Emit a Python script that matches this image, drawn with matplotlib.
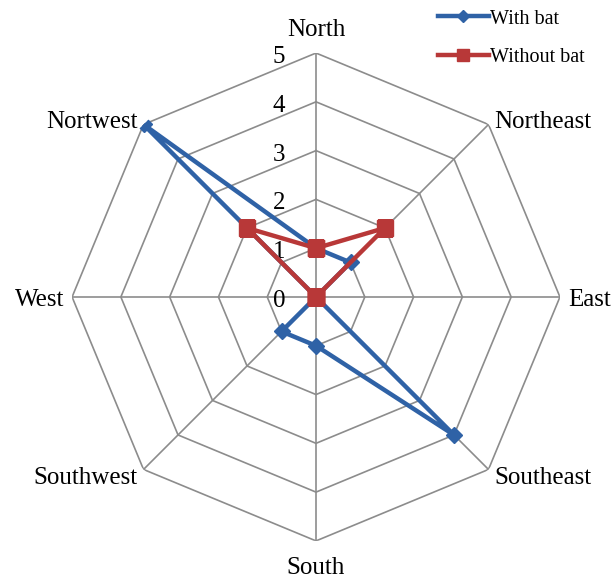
import numpy as np
import matplotlib
matplotlib.use("Agg")
import matplotlib.pyplot as plt

directions = ["North", "Northeast", "East", "Southeast",
              "South", "Southwest", "West", "Nortwest"]
with_bat = [1, 1, 0, 4, 1, 1, 0, 5]
without_bat = [1, 2, 0, 0, 0, 0, 0, 2]
rings = [1, 2, 3, 4, 5]

plt.rcParams["font.family"] = ["Liberation Serif", "DejaVu Serif"]

fig = plt.figure(figsize=(6.16, 5.79), dpi=100)
ax = fig.add_axes([0.117, 0.0656, 0.792, 0.843], projection="polar")
ax.set_theta_zero_location("N")
ax.set_theta_direction(-1)
ax.set_ylim(0, 5)
ax.grid(False)
ax.spines["polar"].set_visible(False)
ax.set_xticks([])
ax.set_yticks([])
ax.patch.set_visible(False)

angles = np.linspace(0, 2 * np.pi, len(directions), endpoint=False)
closed = np.append(angles, angles[0])

# octagon grid
for r in rings:
    ax.plot(closed, [r] * len(closed), color="#8c8c8c", lw=1.2, zorder=1)
for a in angles:
    ax.plot([a, a], [0, rings[-1]], color="#8c8c8c", lw=1.2, zorder=1)

# ring labels left of the north spoke
for r in [0] + rings:
    ax.annotate(str(r), xy=(0, r), xytext=(-37, -4), textcoords="offset pixels",
                ha="center", va="center", fontsize=18)

# direction labels
for a, name in zip(angles, directions):
    s, c = np.sin(a), np.cos(a)
    if abs(s) < 0.01:
        ha = "center"
    elif s > 0:
        ha = "left"
    else:
        ha = "right"
    va = "center"
    dy = 8 * c - 3
    if c > 0.99:
        va = "bottom"
        dy = 12
    elif c < -0.99:
        va = "top"
        dy = -16
    ax.annotate(name, xy=(a, 5), xytext=(8 * s, dy),
                textcoords="offset pixels", ha=ha, va=va, fontsize=18)

wb = with_bat + with_bat[:1]
wo = without_bat + without_bat[:1]
ax.plot(closed, wb, color="#2f62a6", lw=3.2, marker="D", ms=8,
        label="With bat", zorder=3)
ax.plot(closed, wo, color="#b83838", lw=3.2, marker="s", ms=11,
        label="Without bat", zorder=4)

fig.legend(loc="upper left", bbox_to_anchor=(0.682, 1.015), frameon=False,
           fontsize=14.5, handlelength=2.5, handletextpad=0.05, labelspacing=0.95,
           markerscale=0.75)

fig.savefig("out.png", dpi=100)
